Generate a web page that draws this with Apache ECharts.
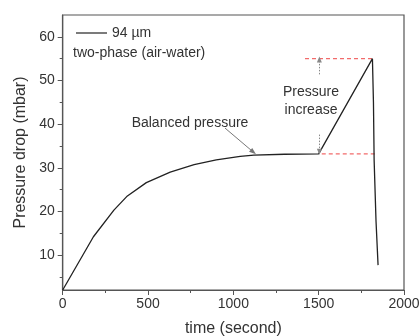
<!DOCTYPE html>
<html><head><meta charset="utf-8">
<script src="https://cdn.jsdelivr.net/npm/echarts@6/dist/echarts.min.js"></script>
<style>html,body{margin:0;padding:0;background:#fff}#c{width:419px;height:336px}</style>
</head><body><div id="c"></div>
<script>
const seriesName = '94 µm';
const timeSec = [0, 180, 300, 375, 490, 630, 770, 900, 1040, 1120, 1300, 1500, 1815, 1821, 1825, 1836, 1848];
const pressure = [2, 14.2, 20.3, 23.4, 26.6, 29.0, 30.7, 31.8, 32.6, 32.9, 33.1, 33.2, 55.0, 45.0, 31.7, 17.8, 7.7];
const yTickLabels = [10, 20, 30, 40, 50, 60];
const yMinorTicks = [5, 15, 25, 35, 45, 55];
const xRange = [0, 2000];
const yRange = [2, 65];
// annotation anchors (data space)
const upperLevel = 55, lowerLevel = 33.2;
const upperDash = [1420, 1815], lowerDash = [1518, 1830];
const arrowX = 1504;
const upArrow = [51.4, 54.8], downArrow = [37.6, 33.7];
const balancedArrow = [[951, 39.1], [1117, 33.6]];

const FONT = "'Liberation Sans', Arial, sans-serif";
const TXT = '#333';
const AX = '#555';
const RED = '#f26b6b';
const chart = echarts.init(document.getElementById('c'), null, {renderer: 'canvas'});
const data = timeSec.map((t, i) => [t, pressure[i]]);
const dotted = () => ({color: '#888', type: [1.5, 1.5], width: 1});

function dashSeries(xs, level) {
  return {
    type: 'line', silent: true, symbol: 'none', showSymbol: false, z: 1,
    data: [[xs[0], level], [xs[1], level]],
    lineStyle: {color: RED, type: [4, 3], width: 1.2}, itemStyle: {color: RED}
  };
}

chart.setOption({
  animation: false,
  grid: {left: 62.7, right: 15, top: 15, bottom: 46, outerBoundsMode: 'none', containLabel: false,
         show: true, borderColor: AX, borderWidth: 1.2, backgroundColor: 'transparent'},
  legend: {
    left: 76, top: 26, padding: 0, itemWidth: 31, itemHeight: 14,
    data: [{name: seriesName, icon: 'path://M0,6.6H31V7.8H0Z'}],
    textStyle: {fontFamily: FONT, fontSize: 14, color: TXT}
  },
  xAxis: {
    type: 'value', min: xRange[0], max: xRange[1], interval: 500,
    name: 'time (second)', nameLocation: 'middle', nameGap: 31,
    nameTextStyle: {fontFamily: FONT, fontSize: 16, color: TXT},
    axisLine: {lineStyle: {color: AX, width: 1.2}},
    axisTick: {inside: false, length: 5, lineStyle: {color: AX}},
    minorTick: {show: true, splitNumber: 2, length: 3, lineStyle: {color: AX}},
    axisLabel: {fontFamily: FONT, fontSize: 14, color: TXT, margin: 7, formatter: v => String(v)},
    splitLine: {show: false}
  },
  yAxis: [{
    type: 'value', min: yRange[0], max: yRange[1],
    name: 'Pressure drop (mbar)', nameLocation: 'middle', nameGap: 34,
    nameTextStyle: {fontFamily: FONT, fontSize: 16, color: TXT},
    axisLine: {show: true, lineStyle: {color: AX, width: 1.2}},
    axisTick: {show: true, length: 5, customValues: yTickLabels, lineStyle: {color: AX}},
    axisLabel: {fontFamily: FONT, fontSize: 14, color: TXT, margin: 8, customValues: yTickLabels},
    splitLine: {show: false}
  }, {
    type: 'value', min: yRange[0], max: yRange[1], position: 'left',
    axisLine: {show: false},
    axisTick: {show: true, length: 3, customValues: yMinorTicks, lineStyle: {color: AX}},
    axisLabel: {show: false},
    splitLine: {show: false}
  }],
  series: [
    dashSeries(upperDash, upperLevel),
    dashSeries(lowerDash, lowerLevel),
    {
    name: seriesName, type: 'line', data: data, showSymbol: false, symbol: 'none',
    lineStyle: {color: '#222', width: 1.3}, itemStyle: {color: '#222'},
    z: 3,
    markLine: {
      silent: true, animation: false, label: {show: false},
      symbol: ['none', 'none'],
      data: [
        [{coord: [arrowX, upArrow[0]], symbol: 'none', lineStyle: dotted(), itemStyle: {color: '#666'}}, {coord: [arrowX, upArrow[1]], symbol: 'triangle', symbolSize: [5, 6], lineStyle: dotted(), itemStyle: {color: '#666'}}],
        [{coord: [arrowX, downArrow[0]], symbol: 'none', lineStyle: dotted(), itemStyle: {color: '#666'}}, {coord: [arrowX, downArrow[1]], symbol: 'triangle', symbolSize: [5, 6], lineStyle: dotted(), itemStyle: {color: '#666'}}],
        [{coord: balancedArrow[0], symbol: 'none', lineStyle: {color: '#777', type: 'solid', width: 1}, itemStyle: {color: '#444'}}, {coord: balancedArrow[1], symbol: 'triangle', symbolSize: [5, 7], lineStyle: {color: '#777', type: 'solid', width: 1}, itemStyle: {color: '#444'}}]
      ]
    }
  }],
  graphic: [
    {type: 'text', left: 73, top: 46, style: {text: 'two-phase (air-water)', font: '14px ' + FONT, fill: TXT}},
    {type: 'text', x: 190, y: 123, style: {text: 'Balanced pressure', font: '14px ' + FONT, fill: TXT, align: 'center', verticalAlign: 'middle'}},
    {type: 'text', x: 311, y: 101, style: {text: 'Pressure\nincrease', font: '14px ' + FONT, fill: TXT, align: 'center', verticalAlign: 'middle', lineHeight: 17.5}}
  ]
});
</script></body></html>
